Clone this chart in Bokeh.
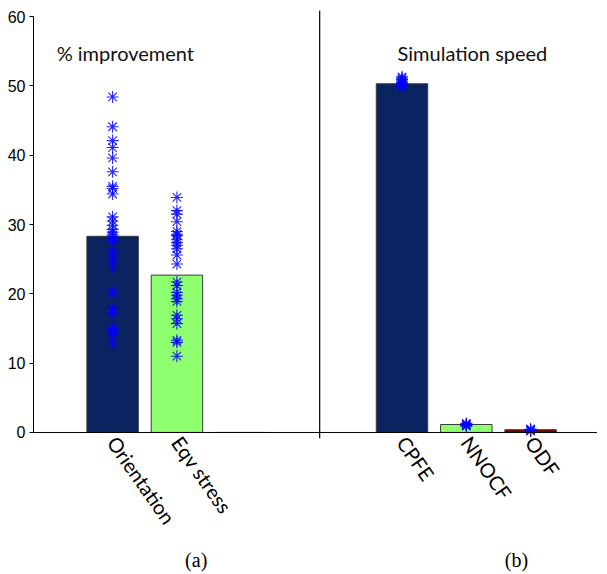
from bokeh.plotting import figure
from bokeh.models import Range1d, FixedTicker, Span, LinearAxis, ColumnDataSource
from bokeh.core.properties import value
from bokeh.embed import file_html
from bokeh.resources import INLINE

# ---- data ----
left_cats = ["Orientation", "Eqv stress", ""]
left_pos = [1.0, 2.0, 3.0]
left_means = [28.3, 22.7, 0.0]

right_cats = ["CPFE", "NNOCF", "ODF"]
right_pos = [5.5, 6.5, 7.5]
right_means = [50.3, 1.15, 0.4]

bar_colors = ["#0b2361", "#8eff6e", "#7f0000"]

orient_pts = [48.4, 44.1, 42.1, 41.1, 39.6, 37.6, 35.5, 35.2, 34.4, 31.1, 30.5,
              29.9, 29.3, 28.9, 28.5, 28.2, 27.7, 26.0, 25.5, 24.6, 23.8, 20.2,
              17.8, 17.3, 15.0, 14.5, 14.2, 12.9]
eqv_pts = [33.9, 32.0, 31.5, 30.4, 29.0, 28.6, 28.4, 27.8, 27.4, 27.0, 26.5,
           25.6, 24.3, 21.7, 21.2, 20.2, 19.8, 19.3, 18.9, 16.9, 16.4, 15.7,
           13.3, 13.0, 11.0]
cpfe_pts = [49.9, 50.1, 50.3, 50.5, 50.7, 50.9, 51.1, 51.3]
nnocf_pts = [0.9, 1.0, 1.1, 1.2, 1.3]
odf_pts = [0.2, 0.3, 0.4, 0.5]

y_ticks = [0, 10, 20, 30, 40, 50, 60]
panel_titles = ["% improvement", "Simulation speed"]
panel_letters = ["(a)", "(b)"]

# ---- figure ----
p = figure(width=597, height=566, output_backend="svg", toolbar_location=None,
           x_range=Range1d(-0.23, 8.54), y_range=Range1d(-0.87, 60.87),
           frame_width=564, frame_height=428,
           min_border_left=33, min_border_right=0, min_border_top=10, min_border_bottom=4)
p.outline_line_color = None
p.grid.visible = False
p.background_fill_color = "white"
p.border_fill_color = "white"

# bars
all_pos = left_pos + right_pos
all_means = left_means + right_means
all_cols = bar_colors + bar_colors
src = ColumnDataSource(dict(x=all_pos, top=all_means, color=all_cols))
p.vbar(x="x", top="top", bottom=0, width=0.8, source=src, fill_color="color",
       line_color="#3a3a3a", line_width=1)

# x axis line at zero and divider
p.add_layout(Span(location=0, dimension="width", line_color="black", line_width=1))
p.add_layout(Span(location=4.22, dimension="height", line_color="black", line_width=1.2))

# points
groups = [(left_pos[0], orient_pts), (left_pos[1], eqv_pts),
          (right_pos[0], cpfe_pts), (right_pos[1], nnocf_pts), (right_pos[2], odf_pts)]
xs, ys = [], []
for xp, pts in groups:
    xs += [xp] * len(pts)
    ys += pts
p.scatter(xs, ys, marker="asterisk", size=12, line_color="#0000ff", line_width=1.1,
          line_alpha=0.85)

# panel titles
p.text(x=[0.13, 5.43], y=[54.7, 54.7], text=panel_titles, text_font=value("Lato"),
       text_font_size="20px", text_color="#111111", text_baseline="middle",
       text_align="left")

# y axis
ya = p.yaxis[0]
ya.bounds = (0, 60)
ya.ticker = FixedTicker(ticks=y_ticks)
ya.minor_tick_line_color = None
ya.major_tick_in = 0
ya.major_tick_out = 4
ya.major_label_standoff = 4
ya.major_label_text_font = "Liberation Sans"
ya.major_label_text_font_size = "16px"
ya.major_label_text_color = "black"
ya.axis_line_color = "black"

# x axis category labels
xa = p.xaxis[0]
lab_pos = [left_pos[0], left_pos[1]] + right_pos
lab_txt = [left_cats[0], left_cats[1]] + right_cats
xa.ticker = FixedTicker(ticks=lab_pos)
xa.major_label_overrides = {float(k): v for k, v in zip(lab_pos, lab_txt)}
xa.axis_line_color = None
xa.major_tick_line_color = None
xa.minor_tick_line_color = None
xa.major_tick_in = 0
xa.major_tick_out = 0
xa.major_label_standoff = 0
xa.major_label_orientation = -0.96
xa.major_label_text_font = "Lato"
xa.major_label_text_font_size = "20px"
xa.major_label_text_color = "black"

# panel letters as second axis
letter_pos = [2.30, 7.28]
la = LinearAxis(ticker=FixedTicker(ticks=letter_pos),
                major_label_overrides={float(k): v for k, v in zip(letter_pos, panel_letters)})
la.axis_line_color = None
la.major_tick_line_color = None
la.minor_tick_line_color = None
la.major_tick_in = 0
la.major_tick_out = 0
la.major_label_standoff = 10
la.major_label_text_font = "Liberation Serif"
la.major_label_text_font_size = "20px"
la.major_label_text_color = "black"
p.add_layout(la, "below")

open("out.html", "w").write(file_html(p, INLINE))
